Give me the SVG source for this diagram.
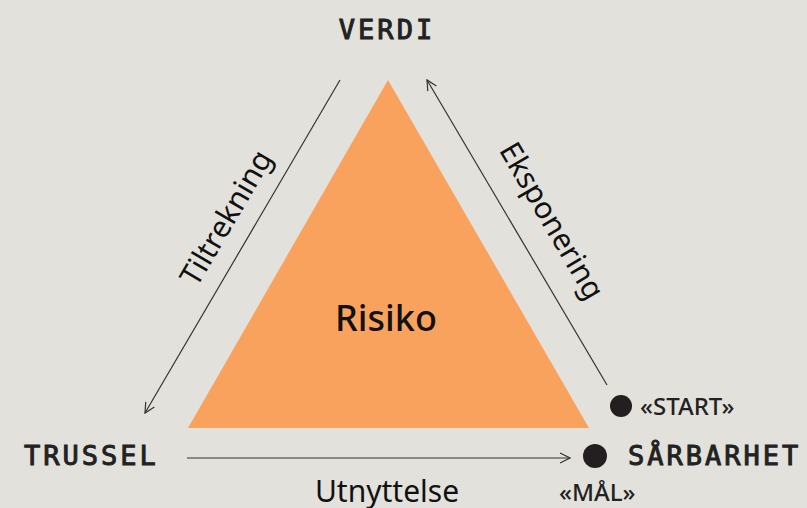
<svg xmlns="http://www.w3.org/2000/svg" width="807" height="508" viewBox="0 0 807 508">
<defs>
<style>
.bg{fill:#E2E1DC}
.tri{fill:#F9A25E}
.node{font-family:"DejaVu Sans Mono","Liberation Mono",monospace;font-size:27px;fill:#222;stroke:#222;stroke-width:1;letter-spacing:3px}
.lbl{font-family:"Noto Sans","Open Sans",sans-serif;font-size:30px;fill:#111}
.tag{font-family:"Noto Sans","Open Sans",sans-serif;font-size:24px;font-weight:500;fill:#222}
.risk{font-family:"Noto Sans","Open Sans",sans-serif;font-size:36px;font-weight:500;fill:#111}
.conn{stroke:#333;stroke-width:1.2;fill:none}
.dot{fill:#231F20}
</style>
<marker id="arr" viewBox="0 0 12 12" refX="11" refY="6" markerWidth="12" markerHeight="12" markerUnits="userSpaceOnUse" orient="auto">
<path d="M1,1 L11,6 L1,11" fill="none" stroke="#333" stroke-width="1.2"/>
</marker>
</defs>
<rect class="bg" width="807" height="508"/>
<g id="risiko">
<polygon class="tri" points="388,80 188,428 589,428"/>
<text class="risk" x="386" y="331" text-anchor="middle">Risiko</text>
</g>
<g id="verdi"><text class="node" x="387" y="39" text-anchor="middle">VERDI</text></g>
<g id="trussel"><text class="node" x="24" y="465">TRUSSEL</text></g>
<g id="sarbarhet">
<circle class="dot" cx="595" cy="456" r="12"/>
<text class="node" x="628" y="465">SÅRBARHET</text>
<circle class="dot" cx="621" cy="406" r="11"/>
<text class="tag" x="640" y="415">«START»</text>
<text class="tag" x="559" y="501">«MÅL»</text>
</g>
<g id="connectors">
<line class="conn" x1="340" y1="80" x2="145" y2="413" marker-end="url(#arr)"/>
<line class="conn" x1="607" y1="385" x2="427" y2="80" marker-end="url(#arr)"/>
<line class="conn" x1="187" y1="458" x2="570" y2="458" marker-end="url(#arr)"/>
<text class="lbl" transform="translate(235,223) rotate(-59.6)" text-anchor="middle">Tiltrekning</text>
<text class="lbl" transform="translate(543,226) rotate(59.6)" text-anchor="middle">Eksponering</text>
<text class="lbl" x="387" y="502" text-anchor="middle">Utnyttelse</text>
</g>
</svg>
